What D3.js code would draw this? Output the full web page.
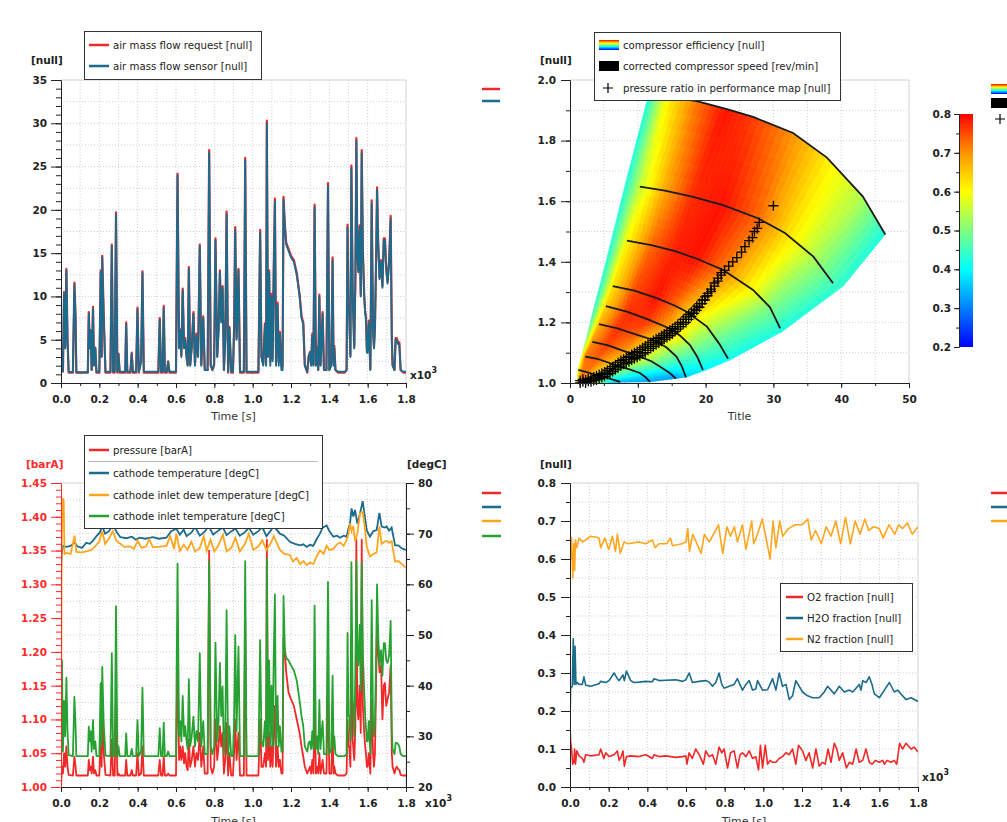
<!DOCTYPE html>
<html>
<head>
<meta charset="utf-8">
<script src="https://cdn.jsdelivr.net/npm/d3@7"></script>
<style>
body { margin: 0; background: #fff; }
text { font-family: "DejaVu Sans", sans-serif; }
.grid { stroke: #cfcfcf; stroke-dasharray: 1,2; stroke-width: 1; }
.axis path, .axis line { stroke: #222; }
.axis text { font-size: 10.5px; font-weight: bold; fill: #222; font-family: "DejaVu Sans", sans-serif; }
.lg { font-size: 10.2px; fill: #222; }
.unit { font-size: 10.5px; font-weight: bold; fill: #222; }
.xt { font-size: 11px; fill: #333; }
</style>
</head>
<body>
<div id="chart"></div>
<script>
// ---------- data ----------
// shared simulation time (s) for air flow / pressure / inlet temperature
var simTime = [
  0,5,10,16,22,28,34,40,62,70,
  76,80,140,145,150,155,160,167,172,179,
  185,200,207,212,215,223,232,258,265,272,
  280,287,294,300,306,335,340,346,362,369,
  375,392,399,406,418,425,432,508,515,522,
  530,536,542,552,559,566,600,608,616,622,
  628,635,642,648,655,661,667,674,682,691,
  699,707,715,724,732,742,750,765,773,781,
  790,799,806,815,822,829,836,843,850,857,
  864,872,879,888,897,903,909,916,926,934,
  954,961,968,1030,1039,1046,1055,1064,1070,1074,
  1080,1086,1092,1098,1104,1110,1116,1122,1130,1136,
  1142,1150,1156,1161,1168,1175,1187,1200,1215,1230,
  1245,1255,1264,1272,1285,1292,1299,1305,1311,1317,
  1323,1330,1337,1342,1348,1354,1360,1365,1372,1385,
  1393,1400,1410,1417,1422,1426,1432,1445,1480,1490,
  1495,1500,1504,1510,1515,1522,1530,1536,1541,1546,
  1551,1558,1564,1569,1575,1582,1587,1591,1596,1600,
  1606,1614,1621,1628,1633,1638,1644,1649,1655,1662,
  1670,1677,1684,1690,1697,1704,1712,1720,1726,1730,
  1740,1746,1752,1758,1765,1772,1785,1800
];
var airSensor = [
  2.0,2.5,1.4,10.3,4,13,5,1.3,1.25,11.4,
  7.5,1.25,1.25,8.0,4,6,1.5,8.6,2,4,
  1.3,1.3,12.8,3,14.5,7.5,1.3,1.3,15.8,1.3,
  1.3,19.5,1.3,3.3,1.3,1.3,6.8,1.3,1.3,3.4,
  1.3,1.3,8.5,1.3,2.5,12.7,1.3,1.3,7.3,1.3,
  1.3,8.7,1.3,1.3,2.4,1.3,1.3,24,4,6,
  3,10.7,4,5,3,2,13.2,2,4,8,
  2,5.5,3,15.8,2,7.5,1.5,1.5,26.6,2,
  1.5,2,16.5,3,6,12.8,7,11,1.5,5,
  19.5,1.3,6.3,1.3,1.3,6,17.7,5,13,1.3,
  1.3,25.7,1.3,1.3,17.4,3,2,6.7,2,30,
  3,12.8,2,10,2.5,13,21,2,9,2,
  5.7,1.5,1.5,21.2,18,16,15.3,14.5,14,12.5,
  10,7.5,6.8,2,1.3,3,3.5,2,5.5,2,
  20.3,2,4,1.5,10,2,5,8,1.5,1.5,
  22.8,1.5,2,14.2,2,4,1.5,1.3,1.3,1.5,
  18,8,8,3,24.8,10,4,12,28,15,
  12.8,18,10,26.6,15,10,8,7.5,3.5,3.5,
  7,1.5,20.8,6,4,6.3,14,22.3,16,12,
  14,11,16.5,16.5,13,11.5,14,19,5,2,
  1.5,5,5,4.5,4.5,1.5,1.3,1.3
];
var airRequest = [
  2.0,2.5,1.3,10.5,4.2,13.2,5,1.2,1.2,11.6,
  7.6,1.2,1.2,8.2,4.1,6.1,1.5,8.8,2.2,4.1,
  1.2,1.2,13,3.1,14.7,7.7,1.2,1.2,16,1.2,
  1.2,19.7,1.2,3.4,1.2,1.2,7,1.2,1.2,3.5,
  1.2,1.2,8.7,1.2,2.6,12.9,1.2,1.2,7.5,1.2,
  1.2,8.9,1.2,1.2,2.5,1.2,1.2,24.2,4.2,6.2,
  3.2,10.9,4.2,5.2,3.1,2.1,13.4,2.1,4.2,8.2,
  2.1,5.7,3.1,16,2.1,7.7,1.5,1.5,26.9,2.1,
  1.5,2.2,16.7,3.1,6.2,13,7.2,11.2,1.5,5.2,
  19.8,1.2,6.5,1.2,1.2,6.2,18,5.2,13.2,1.2,
  1.2,26,1.2,1.2,17.7,3.1,2.2,6.9,2.2,30.3,
  3.3,13,2.5,10.3,2.8,13.3,21.3,2.4,9.3,2.4,
  5.9,1.9,1.9,21.5,18.2,16.2,15.5,14.7,14.2,12.7,
  10.2,7.7,7,2.1,1.2,3.1,3.6,2.1,5.7,2.1,
  20.6,2.1,4.2,1.5,10.2,2.1,5.2,8.2,1.5,1.5,
  23.1,1.5,2.2,14.5,2.4,4.3,1.5,1.2,1.2,1.5,
  18.3,8.2,8.2,3.2,25.1,10.2,4.2,12.2,28.3,15.2,
  13,18.2,10.2,26.9,15.2,10.2,8.2,7.7,3.7,3.8,
  7.2,1.6,21.1,6.2,4.2,6.5,14.3,22.6,16.2,12.2,
  14.2,11.2,16.7,16.7,13.2,11.7,14.2,19.3,5.2,2.1,
  1.5,5.2,5.2,4.7,4.7,1.5,1.2,1.2
];
var cathodePressure = [
  1.00,1.03,1.02,1.05,1.03,1.06,1.03,1.018,1.017,1.045,
  1.03,1.017,1.017,1.04,1.025,1.03,1.02,1.045,1.02,1.025,
  1.017,1.017,1.08,1.03,1.12,1.05,1.018,1.017,1.07,1.017,
  1.017,1.12,1.017,1.02,1.017,1.017,1.04,1.017,1.017,1.025,
  1.017,1.017,1.05,1.017,1.02,1.06,1.017,1.017,1.04,1.017,
  1.017,1.045,1.017,1.017,1.02,1.017,1.017,1.2,1.04,1.06,
  1.04,1.06,1.035,1.05,1.03,1.025,1.07,1.03,1.04,1.06,
  1.03,1.05,1.04,1.08,1.03,1.06,1.02,1.02,1.35,1.03,
  1.02,1.03,1.1,1.04,1.06,1.09,1.06,1.08,1.02,1.04,
  1.095,1.017,1.05,1.017,1.017,1.05,1.1,1.04,1.08,1.017,
  1.017,1.25,1.017,1.017,1.1,1.03,1.03,1.05,1.03,1.366,
  1.04,1.08,1.03,1.06,1.03,1.08,1.12,1.03,1.06,1.03,
  1.04,1.02,1.02,1.22,1.2,1.17,1.14,1.13,1.12,1.1,
  1.08,1.06,1.045,1.03,1.02,1.025,1.03,1.02,1.04,1.02,
  1.12,1.02,1.03,1.02,1.05,1.02,1.03,1.04,1.02,1.02,
  1.15,1.02,1.02,1.08,1.02,1.03,1.02,1.017,1.017,1.02,
  1.1,1.06,1.06,1.03,1.2,1.07,1.04,1.09,1.366,1.12,
  1.1,1.15,1.08,1.366,1.12,1.08,1.06,1.05,1.03,1.03,
  1.05,1.02,1.13,1.05,1.03,1.05,1.15,1.243,1.2,1.17,
  1.18,1.1,1.15,1.154,1.12,1.13,1.14,1.18,1.05,1.03,
  1.02,1.027,1.03,1.027,1.025,1.018,1.017,1.017
];
var inletTemp = [
  20,45,27,37,30,41.6,31,26.3,26.1,37.8,
  32,26.1,26.1,31.9,29,31,27,33.2,27.5,29,
  26.1,26.1,40.5,28,43.7,32.5,26.2,26.1,46.4,26.1,
  26.1,55.7,26.1,28,26.1,26.1,30.6,26.1,26.1,27.5,
  26.1,26.1,33.2,26.1,27,39.6,26.1,26.1,31.6,26.1,
  26.1,32.7,26.1,26.1,27,26.1,26.1,64.1,30,33,
  29,38,30,32,29,27.5,41.3,28,30,33.9,
  28,31,29,46.4,28,33,26.5,26.5,64.5,28,
  26.5,28,48.5,29,33,44.5,34,39.8,26.5,31,
  54.9,26.1,32,26.1,26.1,33,50,31,47.7,26.1,
  26.1,64.6,26.1,26.1,49,29,28,33,28,65,
  30,45,28,40,28,46,58,28,38,28,
  32,27,27,57.7,47,45.5,45,44,43,41,
  37,34,32,28,27,28.7,29,27.5,31,27.5,
  55.8,27.5,30,26.5,37.2,27.5,31,33,26.5,26.5,
  60.5,26.5,27.5,42,27.5,30,26.5,26.1,26.1,26.5,
  50.4,34,34,29,64.4,38,30,42,64.5,46,
  44,52,39,64.3,46,39,34,31.8,29,29,
  33,26.5,56.9,33,30,33,46,60,50,44,
  47,42,48.4,48.4,45,44.5,46,52.8,31,27.5,
  26.5,28.7,28.7,28.5,28,26.5,26.1,26.1
];
// [time s, degC]
var cathodeTemp = [[0,62],[3,65.8],[10,67.6],[28,67.4],[50,67.6],[71,68.3],[85,67.5],[110,67.2],[132,68.2],[150,68],[167,68.6],[185,69.5],[202,70.2],[215,71.5],[230,70],[250,70.5],[272,71.8],[290,70.3],[310,69.3],[341,69.1],[370,69.4],[390,68.8],[411,69.2],[440,69],[480,69.3],[510,69],[550,69.2],[575,70.5],[602,71],[620,69.8],[640,70.8],[655,69.5],[680,70.2],[700,71.3],[724,69.6],[750,70.4],[770,71.5],[794,69.8],[820,70.6],[845,71.2],[864,69.7],[890,70.5],[910,71],[933,69.6],[960,70.3],[980,71.2],[1003,69.8],[1030,70.5],[1050,71.3],[1072,69.5],[1090,70.4],[1110,71.5],[1142,70],[1165,69.6],[1194,68.4],[1220,68],[1247,67.7],[1265,67.9],[1281,67.4],[1300,67.8],[1316,67.6],[1335,69],[1351,70],[1365,71.2],[1386,71.6],[1400,70.5],[1421,69.4],[1440,69.6],[1456,69.2],[1475,69.6],[1490,69.4],[1500,71],[1508,72],[1516,75],[1525,73.4],[1534,74.7],[1546,72],[1560,74],[1574,76.4],[1586,73.2],[1595,70.7],[1612,69.4],[1630,70.5],[1647,70.7],[1661,74.1],[1673,71.4],[1690,71.2],[1699,71.4],[1712,70.6],[1725,71.2],[1743,67.7],[1760,67.7],[1778,67.1],[1800,66.8]];
var dewTemp = [[0,20],[3,66],[8,77],[14,76.5],[18,66],[28,66.2],[50,66],[71,69.6],[80,66.4],[110,66.3],[132,66.5],[160,66.8],[180,67.6],[200,68.5],[215,70.5],[230,68],[250,69],[270,70.5],[290,68.5],[310,68],[330,67.4],[360,67.5],[380,67],[400,68.6],[420,67.2],[445,67.5],[460,68.9],[480,67.3],[510,67.4],[530,67.5],[550,67.6],[570,69.5],[590,67],[602,70],[620,66.6],[640,67.8],[660,66.8],[680,68.4],[700,66.5],[724,67.2],[745,69.5],[760,66.6],[780,68.8],[800,66.5],[820,67.6],[845,69.8],[864,66.5],[890,67.3],[910,69.2],[933,66.5],[960,68],[980,70],[1003,66.8],[1030,67.5],[1050,68.7],[1072,66.8],[1090,67.8],[1110,69.5],[1142,66.8],[1165,66],[1194,65.8],[1210,64.5],[1230,65.2],[1247,64],[1265,64.6],[1281,63.8],[1300,64.3],[1316,64],[1335,65.6],[1351,66.7],[1370,66],[1386,67.6],[1400,66.8],[1421,67],[1440,67.9],[1456,68.3],[1475,67.6],[1490,68.7],[1500,70],[1508,72],[1516,70.5],[1525,71.5],[1534,68.5],[1546,70],[1560,74],[1574,74.3],[1586,71],[1595,67.4],[1612,65.5],[1630,66],[1647,66.3],[1661,71.4],[1673,68],[1690,68.5],[1699,68.6],[1712,68.2],[1725,68.5],[1743,64.5],[1760,64.6],[1778,64],[1800,63.3]];

// gas fractions [time s, fraction]
var o2Fraction = [[0,0.167],[3,0.12],[8,0.1],[14,0.06],[20,0.065],[24,0.1],[28,0.06],[35,0.095],[47,0.082],[64,0.075],[72,0.065],[81,0.085],[107,0.082],[150,0.085],[159,0.1],[175,0.075],[185,0.09],[202,0.08],[228,0.085],[245,0.095],[254,0.07],[265,0.08],[274,0.095],[281,0.055],[292,0.08],[314,0.082],[357,0.08],[392,0.085],[426,0.075],[435,0.085],[461,0.08],[495,0.082],[547,0.078],[582,0.08],[599,0.082],[605,0.06],[616,0.09],[633,0.075],[650,0.1],[668,0.085],[690,0.06],[702,0.095],[720,0.08],[737,0.085],[754,0.06],[771,0.105],[785,0.09],[797,0.1],[815,0.05],[830,0.09],[849,0.095],[866,0.05],[880,0.085],[892,0.09],[910,0.08],[927,0.095],[944,0.075],[961,0.08],[975,0.045],[985,0.11],[996,0.05],[1010,0.11],[1022,0.06],[1035,0.07],[1048,0.065],[1065,0.065],[1082,0.075],[1099,0.08],[1117,0.09],[1134,0.085],[1151,0.1],[1168,0.06],[1182,0.11],[1203,0.095],[1220,0.07],[1237,0.09],[1255,0.05],[1272,0.1],[1289,0.055],[1306,0.065],[1320,0.06],[1335,0.1],[1350,0.065],[1367,0.115],[1380,0.1],[1393,0.07],[1410,0.09],[1430,0.05],[1445,0.065],[1462,0.06],[1480,0.1],[1496,0.065],[1514,0.07],[1531,0.1],[1548,0.065],[1562,0.06],[1580,0.07],[1600,0.065],[1617,0.07],[1626,0.06],[1640,0.07],[1660,0.065],[1677,0.07],[1690,0.06],[1705,0.115],[1720,0.1],[1738,0.115],[1764,0.1],[1780,0.105],[1800,0.092]];
var h2oFraction = [[0,0.167],[3,0.26],[12,0.265],[17,0.39],[22,0.27],[26,0.37],[31,0.27],[38,0.275],[47,0.27],[64,0.27],[72,0.29],[81,0.268],[107,0.265],[150,0.272],[159,0.278],[185,0.275],[202,0.28],[228,0.3],[245,0.285],[254,0.28],[274,0.295],[281,0.28],[292,0.305],[314,0.28],[331,0.275],[357,0.276],[392,0.278],[426,0.277],[435,0.285],[461,0.28],[495,0.281],[547,0.282],[582,0.278],[599,0.282],[616,0.3],[633,0.275],[668,0.278],[702,0.28],[720,0.276],[737,0.265],[754,0.275],[771,0.3],[785,0.27],[797,0.26],[823,0.265],[849,0.27],[866,0.285],[892,0.255],[910,0.27],[927,0.28],[944,0.255],[961,0.258],[970,0.28],[996,0.255],[1022,0.256],[1048,0.285],[1065,0.255],[1082,0.3],[1099,0.265],[1117,0.27],[1134,0.23],[1151,0.24],[1168,0.28],[1203,0.25],[1229,0.24],[1255,0.235],[1289,0.235],[1315,0.25],[1332,0.265],[1350,0.255],[1367,0.245],[1393,0.265],[1419,0.25],[1445,0.255],[1462,0.25],[1496,0.27],[1505,0.255],[1514,0.28],[1531,0.275],[1548,0.29],[1562,0.27],[1574,0.245],[1600,0.235],[1626,0.255],[1652,0.275],[1677,0.25],[1695,0.255],[1712,0.245],[1738,0.23],[1764,0.235],[1800,0.225]];
var n2Fraction = [[0,0.665],[3,0.6],[8,0.655],[14,0.55],[20,0.64],[24,0.57],[28,0.65],[35,0.63],[47,0.655],[64,0.645],[81,0.65],[107,0.66],[130,0.658],[150,0.655],[159,0.63],[180,0.655],[200,0.625],[219,0.66],[235,0.62],[245,0.665],[260,0.615],[280,0.645],[300,0.64],[357,0.645],[390,0.64],[426,0.65],[440,0.63],[460,0.64],[500,0.64],[520,0.655],[530,0.635],[580,0.64],[600,0.645],[609,0.68],[618,0.62],[635,0.665],[652,0.645],[678,0.615],[695,0.665],[720,0.645],[737,0.66],[768,0.69],[790,0.615],[812,0.685],[830,0.66],[850,0.685],[866,0.645],[892,0.69],[910,0.625],[940,0.7],[950,0.64],[970,0.665],[995,0.705],[1020,0.64],[1035,0.6],[1050,0.7],[1065,0.63],[1085,0.7],[1100,0.66],[1130,0.68],[1165,0.69],[1200,0.69],[1230,0.705],[1248,0.65],[1270,0.675],[1300,0.64],[1325,0.685],[1350,0.66],[1375,0.7],[1400,0.64],[1425,0.71],[1450,0.64],[1475,0.7],[1500,0.665],[1525,0.705],[1545,0.675],[1570,0.685],[1600,0.68],[1620,0.655],[1650,0.69],[1680,0.665],[1700,0.69],[1720,0.68],[1745,0.695],[1770,0.665],[1800,0.685]];

// compressor map: rows of [corrected mass flow, pressure ratio, efficiency], surge -> choke
var mapGrid = [
  [[11.7,1.96,.42],[14.3,1.945,.60],[18.7,1.93,.72],[23,1.905,.79],[27,1.878,.76],[32.9,1.825,.70],[37.9,1.744,.62],[43.2,1.615,.54],[46.5,1.49,.42]],
  [[8.1,1.65,.42],[10.3,1.648,.55],[14,1.635,.68],[18,1.615,.77],[22.6,1.587,.79],[27.8,1.543,.73],[31.7,1.495,.64],[35.9,1.417,.54],[40.3,1.32,.43]],
  [[6.1,1.47,.42],[8.4,1.47,.60],[12,1.455,.73],[15.5,1.435,.78],[18.7,1.41,.79],[22.6,1.373,.72],[27,1.307,.60],[29.5,1.25,.50],[31.3,1.17,.42]],
  [[4.4,1.32,.42],[6.3,1.32,.62],[9.5,1.305,.75],[12.8,1.28,.79],[15.5,1.255,.73],[17.2,1.235,.66],[20.2,1.186,.55],[22,1.13,.47],[23.5,1.075,.41]],
  [[3.6,1.255,.43],[5.3,1.254,.64],[8.5,1.235,.77],[11.5,1.21,.77],[14.7,1.18,.68],[16.3,1.155,.60],[17.7,1.125,.52],[18.8,1.085,.45],[19.7,1.04,.39]],
  [[2.95,1.194,.45],[4.28,1.194,.67],[7,1.18,.77],[9.8,1.16,.74],[12.3,1.142,.64],[14.2,1.118,.56],[15.7,1.087,.48],[16.5,1.055,.42],[17.1,1.019,.36]],
  [[2.3,1.136,.50],[3.3,1.136,.70],[5.5,1.125,.76],[8,1.105,.70],[10.3,1.087,.60],[12,1.072,.52],[13.3,1.054,.45],[14.6,1.035,.38],[15.6,1.015,.32]],
  [[1.7,1.087,.55],[2.26,1.087,.72],[4,1.08,.74],[6,1.065,.66],[7.4,1.054,.57],[8.8,1.045,.49],[10.3,1.033,.42],[11.1,1.02,.37],[11.8,1.004,.33]],
  [[1.2,1.043,.60],[1.9,1.04,.72],[2.6,1.035,.72],[3.3,1.031,.66],[4.1,1.026,.58],[4.9,1.021,.50],[5.8,1.015,.44],[6.6,1.009,.38],[7.4,1.003,.34]],
  [[1.0,0.99,.62],[1.5,0.99,.70],[2.0,0.985,.68],[2.5,0.98,.62],[3,0.975,.55],[3.5,0.97,.48],[4,0.965,.42],[4.5,0.96,.36],[5,0.955,.32]]
];
// corrected speed lines [mass flow, pressure ratio]
var speedLines = [
  [[12.2,1.955],[14.3,1.945],[18.7,1.93],[23,1.905],[27,1.878],[32.9,1.825],[37.9,1.744],[43.2,1.615],[46.5,1.49]],
  [[10.3,1.648],[14,1.635],[18,1.615],[22.6,1.587],[27.8,1.543],[31.7,1.495],[35.9,1.417],[38.8,1.329]],
  [[8.4,1.47],[12,1.455],[15.5,1.435],[18.7,1.41],[22.6,1.373],[27,1.307],[29.5,1.25],[31,1.18]],
  [[6.3,1.32],[9.5,1.305],[12.8,1.28],[15.5,1.255],[17.2,1.235],[20.2,1.186],[22,1.13],[23.3,1.081]],
  [[5.3,1.254],[8.5,1.235],[11.5,1.21],[14.7,1.18],[16.3,1.155],[17.7,1.125],[18.8,1.085],[19.6,1.043]],
  [[4.28,1.194],[7,1.18],[9.8,1.16],[12.3,1.142],[14.2,1.118],[15.7,1.087],[16.5,1.055],[17.1,1.019]],
  [[3.3,1.136],[5.5,1.125],[8,1.105],[10.3,1.087],[12,1.072],[13.3,1.054],[14.6,1.035],[15.6,1.015]],
  [[2.26,1.087],[4,1.08],[6,1.065],[7.4,1.054],[8.8,1.045],[10.3,1.033],[11.1,1.02],[11.8,1.004]],
  [[1.23,1.043],[2.6,1.035],[3.7,1.028],[4.9,1.021],[6.2,1.012],[7.4,1.004]]
];
// operating points (pressure ratio in performance map)
var opPoints = [
  [1.5,1.0],[1.5,1.008],[1.9,1.004],[1.9,1.012],[2.3,1.0],[2.3,1.01],[2.7,1.006],[2.7,1.014],
  [3.1,1.004],[3.1,1.016],[3.5,1.008],[3.5,1.02],[3.9,1.01],[3.9,1.024],[4.3,1.014],[4.3,1.028],
  [4.7,1.018],[4.7,1.032],[5.1,1.022],[5.1,1.036],[5.5,1.028],[5.5,1.042],[5.9,1.032],[5.9,1.048],
  [6.3,1.038],[6.3,1.054],[6.7,1.044],[6.7,1.06],[7.1,1.05],[7.1,1.068],[7.5,1.056],[7.5,1.074],
  [7.9,1.062],[7.9,1.078],[8.3,1.066],[8.3,1.084],[8.7,1.07],[8.7,1.088],[9.1,1.076],[9.1,1.094],
  [9.5,1.08],[9.5,1.1],[9.9,1.084],[9.9,1.104],[10.3,1.09],[10.3,1.11],[10.7,1.096],[10.7,1.116],
  [11.1,1.1],[11.1,1.122],[11.5,1.108],[11.5,1.128],[11.9,1.114],[11.9,1.134],[12.3,1.12],[12.3,1.14],
  [12.7,1.126],[12.7,1.146],[13.1,1.132],[13.1,1.15],[13.5,1.138],[13.5,1.156],[13.9,1.144],[13.9,1.162],
  [14.3,1.15],[14.3,1.168],[14.7,1.156],[14.7,1.174],[15.1,1.162],[15.1,1.18],[15.5,1.17],[15.5,1.186],
  [15.9,1.178],[15.9,1.194],[16.3,1.186],[16.3,1.2],[16.7,1.194],[16.7,1.21],[17.1,1.2],[17.1,1.218],
  [17.5,1.21],[17.5,1.226],[17.9,1.22],[17.9,1.234],[18.3,1.23],[18.3,1.244],[18.7,1.24],[18.7,1.254],
  [19.1,1.25],[19.1,1.262],[19.5,1.262],[19.5,1.274],[19.9,1.274],[19.9,1.284],[20.3,1.288],[20.3,1.296],
  [20.8,1.302],[20.8,1.31],[21.3,1.32],[21.3,1.33],[21.8,1.336],[21.8,1.346],[22.3,1.356],[22.3,1.364],
  [22.8,1.372],[23.4,1.386],[24.0,1.4],[24.6,1.414],[25.3,1.432],[25.8,1.45],[26.4,1.47],[26.9,1.48],
  [27.2,1.5],[27.6,1.51],[27.9,1.53],[30,1.585]
];

var effStops = [0.2, 0.4, 0.5, 0.6, 0.7, 0.8];
var effColors = ['#0000ff', '#00ffff', '#80ff80', '#ffff00', '#ff9400', '#ff0000'];

var xTicksTime = [0,200,400,600,800,1000,1200,1400,1600,1800];

// ---------- drawing ----------
var svg = d3.select('#chart').append('svg').attr('width', 1007).attr('height', 822);
var defs = svg.append('defs');
var fmtT = function(d){ return (d/1000).toFixed(1); };
var effColor = d3.scaleLinear().domain(effStops).range(effColors).clamp(true);

var grad = defs.append('linearGradient').attr('id','effGrad')
    .attr('x1',0).attr('y1',1).attr('x2',0).attr('y2',0);
effStops.forEach(function(s, i){
  grad.append('stop').attr('offset', (s-0.2)/0.6).attr('stop-color', effColors[i]);
});

function makePanel(o) {
  var x = d3.scaleLinear().domain(o.xd).range([o.l, o.r]);
  var y = d3.scaleLinear().domain(o.yd).range([o.b, o.t]);
  var g = svg.append('g');
  g.selectAll('.gx').data(o.xGrid).enter().append('line').attr('class','grid')
    .attr('x1', function(d){return x(d);}).attr('x2', function(d){return x(d);})
    .attr('y1', o.t).attr('y2', o.b);
  g.selectAll('.gy').data(o.yGrid).enter().append('line').attr('class','grid')
    .attr('y1', function(d){return y(d);}).attr('y2', function(d){return y(d);})
    .attr('x1', o.l).attr('x2', o.r);
  g.append('path').attr('d','M'+o.l+','+o.t+'H'+o.r+'V'+o.b)
    .attr('fill','none').attr('stroke','#d2d2d2');
  defs.append('clipPath').attr('id','clip'+o.name).append('rect')
    .attr('x', o.l).attr('y', o.t).attr('width', o.r-o.l).attr('height', o.b-o.t);
  var plot = svg.append('g').attr('clip-path','url(#clip'+o.name+')');
  return {x:x, y:y, plot:plot, o:o};
}

function drawAxis(kind, scale, pos, majors, minors, fmt, bigTick, smallTick, pad, color) {
  var mk = {left:d3.axisLeft, right:d3.axisRight, bottom:d3.axisBottom}[kind];
  var tr = kind === 'bottom' ? 'translate(0,'+pos+')' : 'translate('+pos+',0)';
  var a1 = svg.append('g').attr('class','axis').attr('transform', tr)
    .call(mk(scale).tickValues(minors).tickSize(smallTick).tickSizeOuter(0).tickFormat(''));
  var a2 = svg.append('g').attr('class','axis').attr('transform', tr)
    .call(mk(scale).tickValues(majors).tickSize(bigTick).tickSizeOuter(0).tickPadding(pad).tickFormat(fmt));
  if (color) {
    [a1, a2].forEach(function(a){
      a.selectAll('path, line').style('stroke', color);
      a.selectAll('text').style('fill', color);
    });
  }
  return a2;
}

function seriesLine(p, data, color, w) {
  p.plot.append('path').datum(data)
    .attr('d', d3.line().x(function(d){return p.x(d[0]);}).y(function(d){return p.y(d[1]);}))
    .attr('fill','none').attr('stroke', color).attr('stroke-width', w).attr('stroke-linejoin','round');
}

function zip(t, v) { return t.map(function(d, i){ return [d, v[i]]; }); }

function x10(xp, yp) {
  var t = svg.append('text').attr('class','unit').attr('x', xp).attr('y', yp).text('x10');
  t.append('tspan').attr('dy', -6).attr('font-size', '8px').text('3');
}

function legendBox(x0, y0, w, h) {
  svg.append('rect').attr('x', x0+0.5).attr('y', y0+0.5).attr('width', w).attr('height', h)
    .attr('fill','#fff').attr('stroke','#333').attr('stroke-width',1);
}
function legendLine(x0, yy, color, label, len) {
  svg.append('line').attr('x1', x0).attr('x2', x0+(len||20)).attr('y1', yy).attr('y2', yy)
    .attr('stroke', color).attr('stroke-width', 2.5);
  if (label) svg.append('text').attr('class','lg').attr('x', x0+(len||20)+4).attr('y', yy+3.5).text(label);
}

var RED = '#f02828', BLUE = '#1b6b8c', ORANGE = '#ffa51e', GREEN = '#27a232';
var timeMinor = d3.range(0, 1801, 100);

// ===== panel 1: air mass flow =====
var p1 = makePanel({name:'a', l:61, r:406, t:80, b:383, xd:[0,1800], yd:[0,35],
  xGrid: d3.range(100, 1800, 100), yGrid: d3.range(2.5, 35, 2.5)});
seriesLine(p1, zip(simTime, airRequest), RED, 2.2);
seriesLine(p1, zip(simTime, airSensor), BLUE, 1.9);
drawAxis('left', p1.y, 61, d3.range(0, 36, 5), d3.range(0, 36, 1), d3.format('d'), 10, 5, 4);
drawAxis('bottom', p1.x, 383, xTicksTime, timeMinor, fmtT, 5, 3, 8);
svg.append('text').attr('class','unit').attr('x', 31).attr('y', 64).text('[null]');
svg.append('text').attr('class','xt').attr('x', 233.5).attr('y', 420).attr('text-anchor','middle').text('Time [s]');
x10(410, 379);
legendBox(84, 31, 177, 48);
legendLine(89, 45, RED, 'air mass flow request [null]');
legendLine(89, 66, BLUE, 'air mass flow sensor [null]');
legendLine(482, 89, RED, null, 18);
legendLine(482, 101, BLUE, null, 18);

// ===== panel 2: compressor map =====
var p2 = makePanel({name:'b', l:570, r:909, t:80, b:383, xd:[0,50], yd:[1,2],
  xGrid: d3.range(5, 50, 5), yGrid: d3.range(1.1, 2.0, 0.1)});
var nSub = 6, cells = [];
for (var i = 0; i < mapGrid.length-1; i++) {
  for (var j = 0; j < mapGrid[i].length-1; j++) {
    var A = mapGrid[i][j], B = mapGrid[i][j+1], C = mapGrid[i+1][j], D = mapGrid[i+1][j+1];
    for (var u = 0; u < nSub; u++) for (var v = 0; v < nSub; v++) {
      cells.push({A:A, B:B, C:C, D:D, u0:u/nSub, u1:(u+1)/nSub, v0:v/nSub, v1:(v+1)/nSub});
    }
  }
}
function bil(c, u, v, k) {
  return (1-u)*(1-v)*c.A[k] + u*(1-v)*c.B[k] + (1-u)*v*c.C[k] + u*v*c.D[k];
}
p2.plot.append('g').selectAll('path').data(cells).enter().append('path')
  .attr('d', function(c){
    var pts = [[c.u0,c.v0],[c.u1,c.v0],[c.u1,c.v1],[c.u0,c.v1]];
    return 'M' + pts.map(function(q){ return p2.x(bil(c,q[0],q[1],0)) + ',' + p2.y(bil(c,q[0],q[1],1)); }).join('L') + 'Z';
  })
  .attr('fill', function(c){ return effColor(bil(c,(c.u0+c.u1)/2,(c.v0+c.v1)/2,2)); })
  .attr('stroke', function(c){ return effColor(bil(c,(c.u0+c.u1)/2,(c.v0+c.v1)/2,2)); })
  .attr('stroke-width', 0.7);
p2.plot.append('g').selectAll('path').data(speedLines).enter().append('path')
  .attr('d', d3.line().x(function(d){return p2.x(d[0]);}).y(function(d){return p2.y(d[1]);}))
  .attr('fill','none').attr('stroke','#1a1a1a').attr('stroke-width',1.8);
svg.append('g').selectAll('path').data(opPoints).enter().append('path')
  .attr('transform', function(d){ return 'translate(' + p2.x(d[0]) + ',' + p2.y(d[1]) + ')'; })
  .attr('d','M-5,0H5M0,-5V5').attr('stroke','#000').attr('stroke-width',1.3);
drawAxis('left', p2.y, 570, d3.range(1, 2.01, 0.2), d3.range(1, 2.01, 0.1), d3.format('.1f'), 9, 4, 5);
drawAxis('bottom', p2.x, 383, d3.range(0, 51, 10), d3.range(0, 51, 5), d3.format('d'), 5, 3, 8);
svg.append('text').attr('class','unit').attr('x', 540).attr('y', 64).text('[null]');
svg.append('text').attr('class','xt').attr('x', 739.5).attr('y', 420).attr('text-anchor','middle').text('Title');
// colorbar
var cb = d3.scaleLinear().domain([0.2, 0.8]).range([347, 114]);
svg.append('rect').attr('x', 959).attr('y', 114).attr('width', 14).attr('height', 233).attr('fill','url(#effGrad)');
drawAxis('left', cb, 959, d3.range(0.2, 0.81, 0.1), d3.range(0.2, 0.81, 0.05), d3.format('.1f'), 5, 3, 3);
legendBox(594, 32, 246, 68);
svg.append('rect').attr('x', 599).attr('y', 40).attr('width', 20).attr('height', 10).attr('fill','url(#effGrad)');
svg.append('text').attr('class','lg').attr('x', 623).attr('y', 49).text('compressor efficiency [null]');
svg.append('rect').attr('x', 599).attr('y', 61).attr('width', 20).attr('height', 10).attr('fill','#000');
svg.append('text').attr('class','lg').attr('x', 623).attr('y', 70).text('corrected compressor speed [rev/min]');
svg.append('path').attr('d','M603,88H613M608,83V93').attr('stroke','#000').attr('stroke-width',1.2);
svg.append('text').attr('class','lg').attr('x', 623).attr('y', 91.5).text('pressure ratio in performance map [null]');
svg.append('rect').attr('x', 991).attr('y', 84).attr('width', 16).attr('height', 10).attr('fill','url(#effGrad)');
svg.append('rect').attr('x', 991).attr('y', 98).attr('width', 16).attr('height', 10).attr('fill','#000');
svg.append('path').attr('d','M995,119H1005M1000,114V124').attr('stroke','#000').attr('stroke-width',1.2);

// ===== panel 3: pressure and temperatures =====
var p3 = makePanel({name:'c', l:61, r:406, t:483, b:787, xd:[0,1800], yd:[1.0,1.45],
  xGrid: d3.range(100, 1800, 100), yGrid: d3.range(1.025, 1.45, 0.025)});
var yT = d3.scaleLinear().domain([20, 80]).range([787, 483]);
seriesLine(p3, zip(simTime, cathodePressure), RED, 1.8);
p3.plot.append('path').datum(cathodeTemp)
  .attr('d', d3.line().x(function(d){return p3.x(d[0]);}).y(function(d){return yT(d[1]);}))
  .attr('fill','none').attr('stroke', BLUE).attr('stroke-width', 1.8);
p3.plot.append('path').datum(dewTemp)
  .attr('d', d3.line().x(function(d){return p3.x(d[0]);}).y(function(d){return yT(d[1]);}))
  .attr('fill','none').attr('stroke', ORANGE).attr('stroke-width', 1.8);
p3.plot.append('path').datum(zip(simTime, inletTemp))
  .attr('d', d3.line().x(function(d){return p3.x(d[0]);}).y(function(d){return yT(d[1]);}))
  .attr('fill','none').attr('stroke', GREEN).attr('stroke-width', 1.8).attr('stroke-linejoin','round');
drawAxis('left', p3.y, 61, d3.range(1.0, 1.451, 0.05), d3.range(1.0, 1.451, 0.01), d3.format('.2f'), 10, 5, 4, '#ff2a2a');
drawAxis('right', yT, 406, d3.range(20, 81, 10), d3.range(20, 81, 5), d3.format('d'), 8, 4, 4);
drawAxis('bottom', p3.x, 787, xTicksTime, timeMinor, fmtT, 5, 3, 8);
svg.append('text').attr('class','unit').attr('x', 26).attr('y', 468).style('fill','#ff2a2a').text('[barA]');
svg.append('text').attr('class','unit').attr('x', 407).attr('y', 468).text('[degC]');
svg.append('text').attr('class','xt').attr('x', 233.5).attr('y', 825).attr('text-anchor','middle').text('Time [s]');
x10(425, 807);
legendBox(84, 435, 238, 93);
legendLine(89, 450, RED, 'pressure [barA]');
svg.append('line').attr('x1', 88).attr('x2', 318).attr('y1', 461.5).attr('y2', 461.5).attr('stroke','#bbb');
legendLine(89, 473, BLUE, 'cathode temperature [degC]');
legendLine(89, 495, ORANGE, 'cathode inlet dew temperature [degC]');
legendLine(89, 516, GREEN, 'cathode inlet temperature [degC]');
legendLine(482, 493, RED, null, 19);
legendLine(482, 507, BLUE, null, 19);
legendLine(482, 521, ORANGE, null, 19);
legendLine(482, 536, GREEN, null, 19);

// ===== panel 4: gas fractions =====
var p4 = makePanel({name:'d', l:570, r:918, t:483, b:787, xd:[0,1800], yd:[0,0.8],
  xGrid: d3.range(100, 1800, 100), yGrid: d3.range(0.05, 0.8, 0.05)});
seriesLine(p4, o2Fraction, RED, 1.6);
seriesLine(p4, h2oFraction, BLUE, 1.6);
seriesLine(p4, n2Fraction, ORANGE, 1.6);
drawAxis('left', p4.y, 570, d3.range(0, 0.81, 0.1), d3.range(0, 0.81, 0.05), d3.format('.1f'), 9, 4, 5);
drawAxis('bottom', p4.x, 787, xTicksTime, timeMinor, fmtT, 5, 3, 8);
svg.append('text').attr('class','unit').attr('x', 540).attr('y', 468).text('[null]');
svg.append('text').attr('class','xt').attr('x', 744).attr('y', 825).attr('text-anchor','middle').text('Time [s]');
x10(922, 781);
legendBox(780, 583, 132, 68);
legendLine(786, 597, RED, 'O2 fraction [null]', 17);
legendLine(786, 618, BLUE, 'H2O fraction [null]', 17);
legendLine(786, 639, ORANGE, 'N2 fraction [null]', 17);
legendLine(991, 493, RED, null, 16);
legendLine(991, 507, BLUE, null, 16);
legendLine(991, 521, ORANGE, null, 16);
</script>
</body>
</html>
